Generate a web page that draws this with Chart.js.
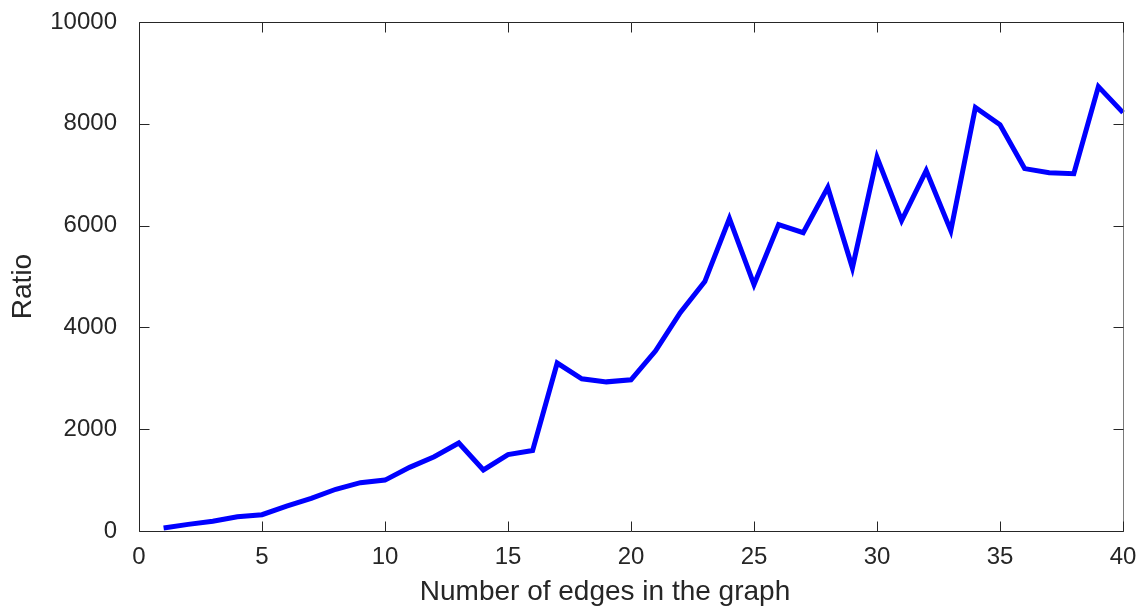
<!DOCTYPE html>
<html>
<head>
<meta charset="utf-8">
<script src="https://cdn.jsdelivr.net/npm/chart.js@4.4.1/dist/chart.umd.min.js"></script>
<style>
  html, body { margin: 0; padding: 0; background: #fff; }
  #wrap { width: 1142px; height: 609px; }
</style>
</head>
<body>
<div id="wrap"><canvas id="ratioChart"></canvas></div>
<script>
// Ratio against the number of edges in the graph
const edges = [1, 2, 3, 4, 5, 6, 7, 8, 9, 10, 11, 12, 13, 14, 15, 16, 17, 18, 19, 20,
               21, 22, 23, 24, 25, 26, 27, 28, 29, 30, 31, 32, 33, 34, 35, 36, 37, 38, 39, 40];
const ratio = [60, 130, 190, 280, 320, 490, 640, 820, 950, 1000,
               1250, 1460, 1730, 1200, 1500, 1580, 3300, 2990, 2930, 2970,
               3540, 4290, 4900, 6140, 4840, 6020, 5860, 6750, 5170, 7340,
               6100, 7080, 5900, 8320, 7980, 7120, 7040, 7020, 8730, 8220];
const xTicks = [0, 5, 10, 15, 20, 25, 30, 35, 40];
const yTicks = [0, 2000, 4000, 6000, 8000, 10000];
const xTitle = 'Number of edges in the graph';
const yTitle = 'Ratio';

const ink = '#262626';
const fontFamily = '"Liberation Sans", Arial, Helvetica, sans-serif';

// box around the plot with inward tick marks on all four sides, plus axis titles
const boxTicks = {
  id: 'boxTicks',
  afterDraw(chart) {
    const { ctx, chartArea: a, scales } = chart;
    const len = 10;
    const L = Math.round(a.left) + 0.5, R = Math.round(a.right) + 0.5;
    const T = Math.round(a.top) + 0.5, B = Math.round(a.bottom) + 0.5;
    ctx.save();
    ctx.lineWidth = 1;
    // frame: right edge a little lighter
    ctx.strokeStyle = '#7a7a7a';
    ctx.beginPath();
    ctx.moveTo(R, T); ctx.lineTo(R, B);
    ctx.stroke();
    ctx.strokeStyle = ink;
    ctx.beginPath();
    ctx.moveTo(R, T); ctx.lineTo(L, T); ctx.lineTo(L, B); ctx.lineTo(R, B);
    xTicks.forEach(v => {
      const x = Math.round(scales.x.getPixelForValue(v)) + 0.5;
      ctx.moveTo(x, B); ctx.lineTo(x, B - len);
      ctx.moveTo(x, T); ctx.lineTo(x, T + len);
    });
    yTicks.forEach(v => {
      const y = Math.round(scales.y.getPixelForValue(v)) + 0.5;
      ctx.moveTo(L, y); ctx.lineTo(L + len, y);
      ctx.moveTo(R, y); ctx.lineTo(R - len, y);
    });
    ctx.stroke();

    // axis titles
    ctx.fillStyle = ink;
    ctx.font = '28px ' + fontFamily;
    ctx.textAlign = 'center';
    ctx.textBaseline = 'middle';
    ctx.fillText(xTitle, (a.left + a.right) / 2 - 26, 592);
    ctx.translate(23, (a.top + a.bottom) / 2 + 10);
    ctx.rotate(-Math.PI / 2);
    ctx.fillText(yTitle, 0, 0);
    ctx.restore();
  }
};

new Chart(document.getElementById('ratioChart'), {
  type: 'line',
  data: {
    datasets: [{
      data: edges.map((e, i) => ({ x: e, y: ratio[i] })),
      borderColor: '#0000ff',
      borderWidth: 5,
      pointRadius: 0,
      tension: 0,
      fill: false,
      clip: false
    }]
  },
  options: {
    responsive: true,
    maintainAspectRatio: false,
    animation: false,
    layout: { padding: { top: 22, right: 19, left: 0, bottom: 0 } },
    plugins: {
      legend: { display: false },
      tooltip: { enabled: false }
    },
    scales: {
      x: {
        type: 'linear',
        min: 0,
        max: 40,
        afterBuildTicks(scale) { scale.ticks = xTicks.map(v => ({ value: v })); },
        afterFit(scale) {
          scale.height = 78;
          scale.paddingLeft = 0;
          scale.paddingRight = 0;
        },
        grid: { display: false, drawTicks: false },
        border: { display: false },
        ticks: {
          padding: 12,
          color: ink,
          font: { family: fontFamily, size: 24 },
          maxRotation: 0,
          callback: v => String(v)
        }
      },
      y: {
        min: 0,
        max: 10000,
        afterBuildTicks(scale) { scale.ticks = yTicks.map(v => ({ value: v })); },
        afterFit(scale) {
          scale.width = 139;
          scale.paddingTop = 0;
          scale.paddingBottom = 0;
        },
        grid: { display: false, drawTicks: false },
        border: { display: false },
        ticks: {
          padding: 22,
          color: ink,
          font: { family: fontFamily, size: 24 },
          callback: v => String(v)
        }
      }
    }
  },
  plugins: [boxTicks]
});
</script>
</body>
</html>
